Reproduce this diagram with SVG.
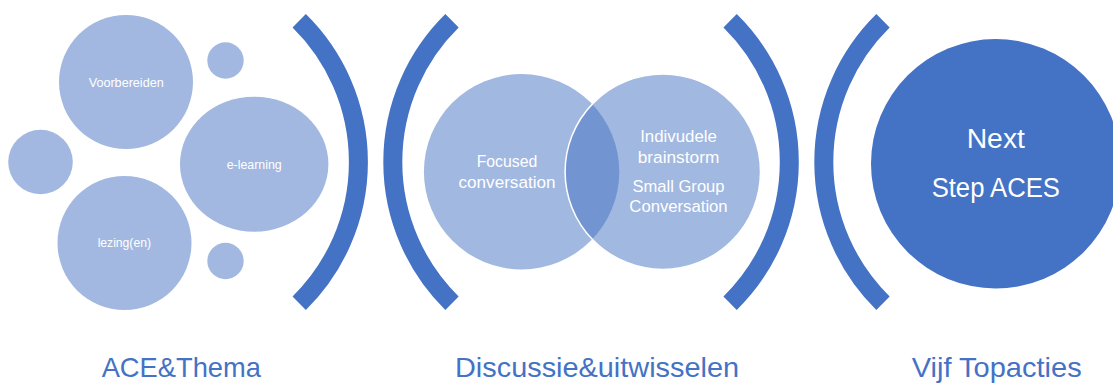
<svg xmlns="http://www.w3.org/2000/svg" width="1113" height="383" viewBox="0 0 1113 383">
  <style>
    .lt { fill: #A2B8E1; }
    .vn { fill: #4472C4; fill-opacity: 0.5; }
    .dk { fill: #4472C4; }
    .paren { fill: none; stroke: #4472C4; stroke-width: 19; stroke-linecap: butt; }
    .wt { fill: #FFFFFF; font-family: "Liberation Sans", Arial, sans-serif; text-anchor: middle; }
    .s { font-size: 12.3px; }
    .m { font-size: 16.7px; }
    .l { font-size: 27px; }
    .lab { fill: #4472C4; font-family: "Liberation Sans", Arial, sans-serif; font-size: 28px; text-anchor: middle; }
  </style>
  <rect width="1113" height="383" fill="#FFFFFF"/>

  <g id="connectors">
    <path class="paren" d="M299.2 20.8 A198 198 0 0 1 299.2 303.2"/>
    <path class="paren" d="M452 20.8 A198 198 0 0 0 452 303.2"/>
    <path class="paren" d="M730.1 20.8 A198 198 0 0 1 730.1 303.2"/>
    <path class="paren" d="M883 20.8 A198 198 0 0 0 883 303.2"/>
  </g>

  <g id="voorbereiden">
    <circle class="lt" cx="126" cy="82" r="67"/>
    <text class="wt s" x="126.2" y="86.7" textLength="75" lengthAdjust="spacingAndGlyphs">Voorbereiden</text>
  </g>
  <g id="dot-top">
    <circle class="lt" cx="225.5" cy="60.5" r="18.2"/>
  </g>
  <g id="dot-left">
    <circle class="lt" cx="40.5" cy="162" r="32.3"/>
  </g>
  <g id="elearning">
    <ellipse class="lt" cx="254.2" cy="164.2" rx="74.2" ry="67.5"/>
    <text class="wt s" x="254.2" y="169.3" textLength="55" lengthAdjust="spacingAndGlyphs">e-learning</text>
  </g>
  <g id="lezingen">
    <circle class="lt" cx="124.5" cy="243" r="67"/>
    <text class="wt s" x="124.3" y="246.7" textLength="53.3" lengthAdjust="spacingAndGlyphs">lezing(en)</text>
  </g>
  <g id="dot-bottom">
    <circle class="lt" cx="225.5" cy="261" r="18.2"/>
  </g>

  <g id="focused">
    <circle class="vn" cx="521.6" cy="171.7" r="97.7"/>
    <text class="wt m" x="507" y="166.7" textLength="60.7" lengthAdjust="spacingAndGlyphs">Focused</text>
    <text class="wt m" x="507" y="187.7" textLength="97" lengthAdjust="spacingAndGlyphs">conversation</text>
  </g>
  <g id="brainstorm">
    <circle class="vn" cx="662.8" cy="171.7" r="97.7" stroke="#FFFFFF" stroke-width="1.5"/>
    <text class="wt m" x="678.5" y="141.7" textLength="76.7" lengthAdjust="spacingAndGlyphs">Indivudele</text>
    <text class="wt m" x="678.5" y="162.7" textLength="81.7" lengthAdjust="spacingAndGlyphs">brainstorm</text>
    <text class="wt m" x="678.5" y="191.7" textLength="92" lengthAdjust="spacingAndGlyphs">Small Group</text>
    <text class="wt m" x="678.5" y="211.7" textLength="98.3" lengthAdjust="spacingAndGlyphs">Conversation</text>
  </g>

  <g id="nextstep">
    <circle class="dk" cx="995.7" cy="163.7" r="124.7"/>
    <text class="wt l" x="995.8" y="148.3" textLength="58.3" lengthAdjust="spacingAndGlyphs">Next</text>
    <text class="wt l" x="995.8" y="196.7" textLength="128.3" lengthAdjust="spacingAndGlyphs">Step ACES</text>
  </g>

  <g id="label-ace">
    <text class="lab" x="181.3" y="376.7" textLength="159.3" lengthAdjust="spacingAndGlyphs">ACE&amp;Thema</text>
  </g>
  <g id="label-discussie">
    <text class="lab" x="597" y="376.7" textLength="284" lengthAdjust="spacingAndGlyphs">Discussie&amp;uitwisselen</text>
  </g>
  <g id="label-vijf">
    <text class="lab" x="996.7" y="376.7" textLength="170" lengthAdjust="spacingAndGlyphs">Vijf Topacties</text>
  </g>
</svg>
